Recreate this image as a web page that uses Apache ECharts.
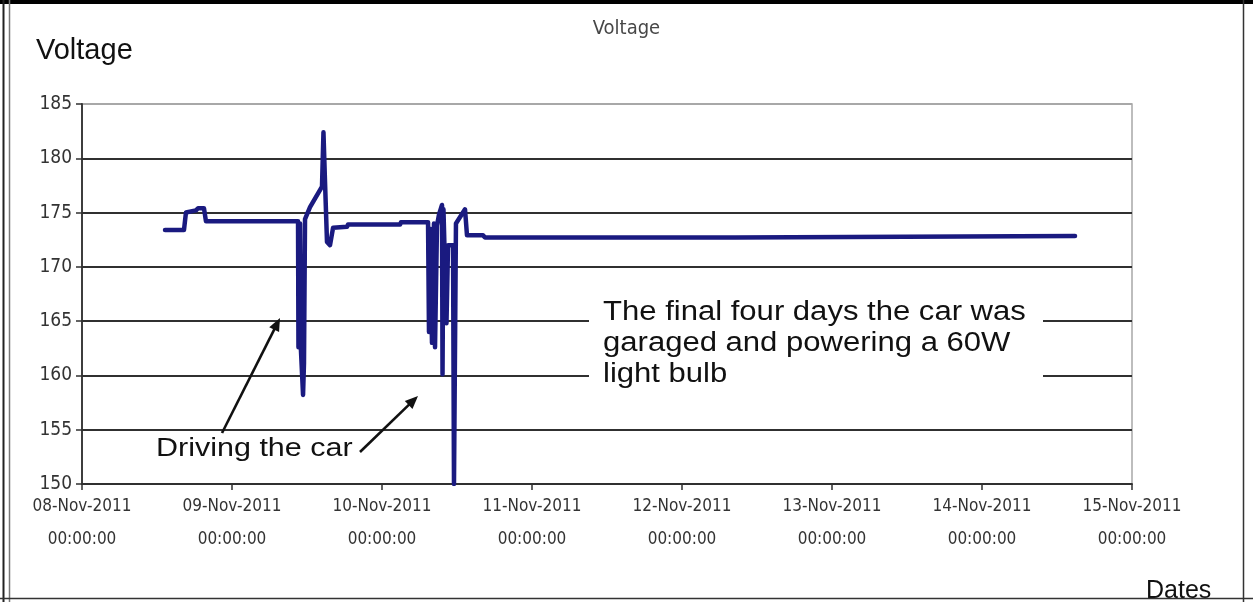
<!DOCTYPE html>
<html>
<head>
<meta charset="utf-8">
<script src="https://cdn.jsdelivr.net/npm/echarts@6/dist/echarts.min.js"></script>
<style>
  html, body { margin: 0; padding: 0; background: #ffffff; }
  #chart { width: 1253px; height: 602px; }
</style>
</head>
<body>
<div id="chart"></div>
<script>
// ---- data ----
const dates = [
  '2011-11-08 13:17', '2011-11-08 16:19', '2011-11-08 16:38', '2011-11-08 18:14',
  '2011-11-08 18:34', '2011-11-08 19:31', '2011-11-08 19:50', '2011-11-09 10:34',
  '2011-11-09 10:38', '2011-11-09 10:53', '2011-11-09 11:02', '2011-11-09 11:22',
  '2011-11-09 11:31', '2011-11-09 11:41', '2011-11-09 12:29', '2011-11-09 14:24',
  '2011-11-09 14:38', '2011-11-09 14:53', '2011-11-09 15:12', '2011-11-09 15:41',
  '2011-11-09 16:10', '2011-11-09 18:24', '2011-11-09 18:34', '2011-11-10 02:53',
  '2011-11-10 03:02', '2011-11-10 07:22', '2011-11-10 07:31', '2011-11-10 07:41',
  '2011-11-10 08:00', '2011-11-10 08:19', '2011-11-10 08:29', '2011-11-10 08:48',
  '2011-11-10 09:07', '2011-11-10 09:36', '2011-11-10 09:41', '2011-11-10 09:50',
  '2011-11-10 10:19', '2011-11-10 10:34', '2011-11-10 11:22', '2011-11-10 11:31',
  '2011-11-10 11:50', '2011-11-10 13:17', '2011-11-10 13:36', '2011-11-10 16:10',
  '2011-11-10 16:29', '2011-11-12 08:29', '2011-11-12 08:48', '2011-11-14 14:53'
];
const volts = [
  173.4, 173.4, 175.0, 175.2,
  175.4, 175.4, 174.2, 174.2,
  162.6, 174.0, 162.3, 158.2,
  161.1, 174.4, 175.5, 177.4,
  182.4, 177.8, 172.3, 172.0,
  173.6, 173.7, 173.9, 173.9,
  174.1, 174.1, 164.0, 173.5,
  163.0, 174.0, 162.6, 173.8,
  174.8, 175.7, 160.1, 175.3,
  164.8, 172.0, 172.0, 150.0,
  174.0, 175.3, 172.9, 172.9,
  172.7, 172.7, 172.85, 172.85
];
const xStart = '2011-11-08 00:00';
const xEnd = '2011-11-15 00:00';
const yTicks = [150, 155, 160, 165, 170, 175, 180, 185];
const monthNames = ['Jan','Feb','Mar','Apr','May','Jun','Jul','Aug','Sep','Oct','Nov','Dec'];
const timeLabel = '00:00:00';
const chartTitle = 'Voltage';
const yName = 'Voltage';
const xName = 'Dates';
const noteGarage = 'The final four days the car was\ngaraged and powering a 60W\nlight bulb';
const noteDriving = 'Driving the car';

// ---- helpers ----
const toMs = s => Date.parse(s.replace(' ', 'T') + ':00Z');
const DAY = 86400000;
const pad2 = n => (n < 10 ? '0' : '') + n;
const NARROW = '"Liberation Sans Narrow", "Arial Narrow", "DejaVu Sans Condensed", sans-serif';
const SANS = '"Liberation Sans", Arial, sans-serif';

function arrow(x1, y1, x2, y2) {
  const dx = x2 - x1, dy = y2 - y1;
  const len = Math.sqrt(dx * dx + dy * dy);
  const ux = dx / len, uy = dy / len;
  const hl = 13, hw = 5.5;
  const bx = x2 - ux * hl, by = y2 - uy * hl;
  const nx = -uy, ny = ux;
  return [
    { type: 'line', z: 110, shape: { x1: x1, y1: y1, x2: bx + ux * 2, y2: by + uy * 2 },
      style: { stroke: '#111', lineWidth: 2.6 } },
    { type: 'polygon', z: 110,
      shape: { points: [[x2, y2], [bx + nx * hw, by + ny * hw], [bx - nx * hw, by - ny * hw]] },
      style: { fill: '#111' } }
  ];
}

const chart = echarts.init(document.getElementById('chart'), null, { renderer: 'canvas' });

const gridColors = yTicks.map((v, i) => (i === yTicks.length - 1 ? '#a8a8a8' : '#303030'));

chart.setOption({
  backgroundColor: '#ffffff',
  animation: false,
  title: [
    { text: chartTitle, left: 'center', top: 14,
      textStyle: { fontFamily: NARROW, fontSize: 20, fontWeight: 'normal', color: '#474747' } },
    { text: yName, left: 31, top: 31,
      textStyle: { fontFamily: SANS, fontSize: 29, fontWeight: 'normal', color: '#111' } },
    { text: xName, left: 1141, top: 574,
      textStyle: { fontFamily: SANS, fontSize: 25, fontWeight: 'normal', color: '#111' } }
  ],
  grid: {
    left: 82, right: 121, top: 104, bottom: 118,
    show: true, borderColor: '#a8a8a8', borderWidth: 1.5, backgroundColor: 'transparent'
  },
  xAxis: {
    type: 'value',
    min: toMs(xStart), max: toMs(xEnd), interval: DAY,
    axisLine: { show: true, lineStyle: { color: '#303030', width: 1.8 } },
    axisTick: { show: true, length: 6, lineStyle: { color: '#303030', width: 1.5 } },
    splitLine: { show: false },
    axisLabel: {
      margin: 6,
      showMinLabel: true, showMaxLabel: true,
      formatter: function (v) {
        const d = new Date(v);
        const s = pad2(d.getUTCDate()) + '-' + monthNames[d.getUTCMonth()] + '-' + d.getUTCFullYear();
        return '{a|' + s + '}\n{a|' + timeLabel + '}';
      },
      rich: { a: { fontFamily: NARROW, fontSize: 17, lineHeight: 33, color: '#333' } }
    }
  },
  yAxis: {
    type: 'value',
    min: yTicks[0], max: yTicks[yTicks.length - 1], interval: 5,
    axisLine: { show: true, lineStyle: { color: '#303030', width: 1.8 } },
    axisTick: { show: true, length: 6, lineStyle: { color: '#303030', width: 1.5 } },
    splitLine: { show: true, lineStyle: { color: gridColors, width: 2 } },
    axisLabel: { margin: 10, fontFamily: NARROW, fontSize: 19, color: '#333' }
  },
  series: [{
    type: 'line',
    data: dates.map((d, i) => [toMs(d), volts[i]]),
    showSymbol: false,
    symbol: 'none',
    clip: true,
    lineStyle: { color: '#1a1a80', width: 4.5, join: 'round', cap: 'round' },
    z: 5
  }],
  graphic: [
    // outer frame
    { type: 'rect', z: 120, shape: { x: 0, y: 0, width: 1253, height: 4 }, style: { fill: '#000' } },
    { type: 'line', z: 120, shape: { x1: 3.5, y1: 0, x2: 3.5, y2: 602 }, style: { stroke: '#222', lineWidth: 2 } },
    { type: 'line', z: 120, shape: { x1: 9.5, y1: 0, x2: 9.5, y2: 602 }, style: { stroke: '#777', lineWidth: 1.5 } },
    { type: 'line', z: 120, shape: { x1: 1243.5, y1: 0, x2: 1243.5, y2: 602 }, style: { stroke: '#333', lineWidth: 1.5 } },
    { type: 'line', z: 120, shape: { x1: 0, y1: 598.5, x2: 1253, y2: 598.5 }, style: { stroke: '#333', lineWidth: 1.5 } },
    // garage note with white box
    { type: 'rect', z: 100, shape: { x: 589, y: 296, width: 454, height: 96 }, style: { fill: '#ffffff' } },
    { type: 'text', z: 105, x: 603, y: 297, scaleX: 1.15, originX: 0, originY: 0,
      style: { text: noteGarage, font: '27px ' + SANS, lineHeight: 31, fill: '#111',
               textAlign: 'left', textVerticalAlign: 'top' } },
    // driving note
    { type: 'text', z: 105, x: 156, y: 437, scaleX: 1.22, originX: 0, originY: 0,
      style: { text: noteDriving, font: '25px ' + SANS, fill: '#111',
               textAlign: 'left', textVerticalAlign: 'top' } }
  ].concat(arrow(222, 433, 280, 318), arrow(360, 452, 418, 396))
});
</script>
</body>
</html>
